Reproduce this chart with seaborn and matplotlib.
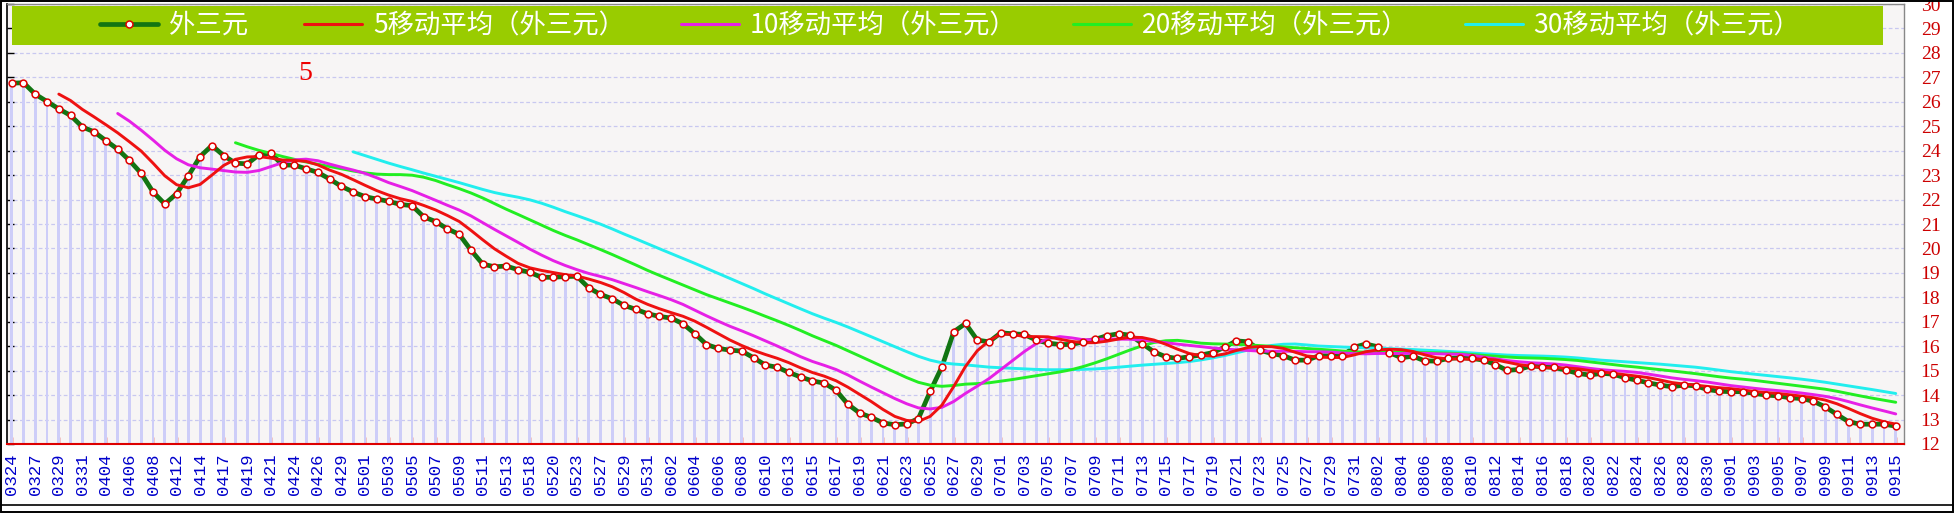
import numpy as np
import pandas as pd
import matplotlib
matplotlib.use("Agg")
import matplotlib.pyplot as plt
import seaborn as sns
from matplotlib.lines import Line2D
from matplotlib.patches import Rectangle

# ---------------- data ----------------
date_labels = [
    "0324", "0327", "0329", "0331", "0404", "0406", "0408", "0412", "0414", "0417",
    "0419", "0421", "0424", "0426", "0429", "0501", "0503", "0505", "0507", "0509",
    "0511", "0513", "0518", "0520", "0523", "0527", "0529", "0531", "0602", "0604",
    "0606", "0608", "0610", "0613", "0615", "0617", "0619", "0621", "0623", "0625",
    "0627", "0629", "0701", "0703", "0705", "0707", "0709", "0711", "0713", "0715",
    "0717", "0719", "0721", "0723", "0725", "0727", "0729", "0731", "0802", "0804",
    "0806", "0808", "0810", "0812", "0814", "0816", "0818", "0820", "0822", "0824",
    "0826", "0828", "0830", "0901", "0903", "0905", "0907", "0909", "0911", "0913",
    "0915",
]

values = [
    26.76, 26.78, 26.31, 26.01, 25.71, 25.44, 24.97, 24.77, 24.41, 24.06,
    23.60, 23.07, 22.31, 21.82, 22.24, 22.97, 23.76, 24.21, 23.80, 23.49,
    23.46, 23.83, 23.90, 23.41, 23.41, 23.26, 23.11, 22.84, 22.54, 22.31,
    22.12, 22.02, 21.93, 21.80, 21.75, 21.29, 21.10, 20.80, 20.58, 19.93,
    19.36, 19.25, 19.28, 19.13, 19.02, 18.82, 18.82, 18.85, 18.86, 18.39,
    18.12, 17.94, 17.67, 17.51, 17.33, 17.22, 17.15, 16.92, 16.52, 16.07,
    15.91, 15.84, 15.80, 15.53, 15.23, 15.14, 14.93, 14.74, 14.58, 14.49,
    14.20, 13.63, 13.27, 13.09, 12.86, 12.79, 12.82, 13.04, 14.15, 15.16,
    16.59, 16.93, 16.25, 16.18, 16.55, 16.51, 16.48, 16.25, 16.13, 16.07,
    16.07, 16.18, 16.28, 16.43, 16.51, 16.45, 16.11, 15.77, 15.57, 15.50,
    15.57, 15.64, 15.74, 15.96, 16.22, 16.18, 15.84, 15.70, 15.61, 15.43,
    15.43, 15.61, 15.61, 15.61, 15.96, 16.09, 15.98, 15.74, 15.53, 15.59,
    15.40, 15.39, 15.50, 15.53, 15.50, 15.43, 15.25, 15.01, 15.05, 15.19,
    15.16, 15.13, 15.02, 14.89, 14.82, 14.89, 14.86, 14.71, 14.61, 14.50,
    14.41, 14.34, 14.41, 14.38, 14.23, 14.16, 14.14, 14.14, 14.07, 14.00,
    13.97, 13.89, 13.86, 13.75, 13.52, 13.21, 12.91, 12.81, 12.81, 12.81,
    12.73,
]

series_name = "外三元"
ma_windows = [5, 10, 20, 30]
ma_names = ["5移动平均（外三元）", "10移动平均（外三元）",
            "20移动平均（外三元）", "30移动平均（外三元）"]
ma_colors = ["#ee1111", "#e620e6", "#22ee22", "#22eeee"]
y_ticks = list(range(12, 31))

# ---------------- figure ----------------
sns.set_theme(style="white")
plt.rcParams['font.family'] = ['Noto Sans CJK SC', 'DejaVu Sans']

W, H = 1954, 513
fig = plt.figure(figsize=(W / 100, H / 100), dpi=100)
fig.patch.set_facecolor("white")
ax = fig.add_axes([7 / W, (H - 444) / H, (1904 - 7) / W, (444 - 4) / H])
ax.set_facecolor("#f7f5f5")

idx = np.arange(len(values))
df = pd.DataFrame({"idx": idx, "value": values})
for w in ma_windows:
    df[f"ma{w}"] = df["value"].rolling(w).mean()

# grid
ax.set_ylim(12, 30)
ax.set_yticks(y_ticks)
ax.yaxis.grid(True, color="#c8c8f0", linestyle=(0, (3, 2)), linewidth=0.9)
ax.xaxis.grid(False)
ax.set_axisbelow(True)

# vertical bars
sns.barplot(data=df, x="idx", y="value", color="#cdcdf8", width=0.24,
            native_scale=True, saturation=1, linewidth=0, ax=ax, zorder=1)

# main line (under MAs)
sns.lineplot(data=df, x="idx", y="value", color="#127512", linewidth=3.4,
             ax=ax, zorder=3)
# moving averages
for w, c in zip(reversed(ma_windows), reversed(ma_colors)):
    sns.lineplot(data=df, x="idx", y=f"ma{w}", color=c, linewidth=2.1,
                 ax=ax, zorder=4)
# markers on top
sns.scatterplot(data=df, x="idx", y="value", s=24, color="white",
                edgecolor="#e00000", linewidth=1.1, ax=ax, zorder=5)

ax.set_xlim(-0.4, 160.7)
ax.set_xlabel("")
ax.set_ylabel("")

# x ticks
ax.set_xticks(idx[::2])
ax.set_xticklabels(date_labels, rotation=90, color="#0000cc", fontsize=12.5,
                   family="Liberation Mono")
ax.tick_params(axis="x", bottom=True, direction="in", length=5, color="#dd0000",
               width=1, pad=7)

# y ticks (labels on the right, ticks on the left)
ax.tick_params(axis="y", left=True, right=False, labelleft=False, labelright=True,
               direction="in", length=5, color="black", width=1,
               labelcolor="#cc0000", labelsize=14, pad=12)
for lbl in ax.get_yticklabels():
    lbl.set_family("Liberation Serif")

for side, col, lw in [("bottom", "#dd0000", 1.5), ("left", "black", 1.2),
                      ("right", "#888888", 1.0), ("top", "#888888", 1.0)]:
    ax.spines[side].set_color(col)
    ax.spines[side].set_linewidth(lw)
    ax.spines[side].set_visible(True)

# legend band
fig.add_artist(Rectangle((12 / W, 1 - 45 / H), (1883 - 12) / W, 39 / H,
                         transform=fig.transFigure, facecolor="#99cc00",
                         edgecolor="none", zorder=5))
handles = [Line2D([], [], color="#127512", linewidth=3.4, marker="o",
                  markersize=5, markerfacecolor="white",
                  markeredgecolor="#e00000", markeredgewidth=1.1)]
handles += [Line2D([], [], color=c, linewidth=2.2) for c in ma_colors]
labels = [series_name] + ma_names
leg = fig.legend(handles, labels, loc="center",
                 bbox_to_anchor=(100 / W, 1 - 45 / H, (1800 - 100) / W, 39 / H),
                 ncol=5, mode="expand", frameon=False, fontsize=19,
                 labelcolor="white", handlelength=2.2, handletextpad=0.4,
                 borderaxespad=0, borderpad=0.0)
leg.set_zorder(6)

# red annotation
fig.text(305 / W, 1 - 74 / H, "5", color="#ee0000", fontsize=20,
         family="Liberation Serif", ha="center", va="center")

# outer frame
fig.add_artist(Rectangle((0.7 / W, 0.7 / H), (W - 1.6) / W, (H - 1.6) / H,
                         transform=fig.transFigure, fill=False,
                         edgecolor="black", linewidth=1.4, zorder=7))
fig.add_artist(Line2D([0, 1], [1 - 505 / H] * 2, transform=fig.transFigure,
                      color="black", linewidth=1.2, zorder=7))

fig.savefig("out.png", dpi=100, facecolor="white")
